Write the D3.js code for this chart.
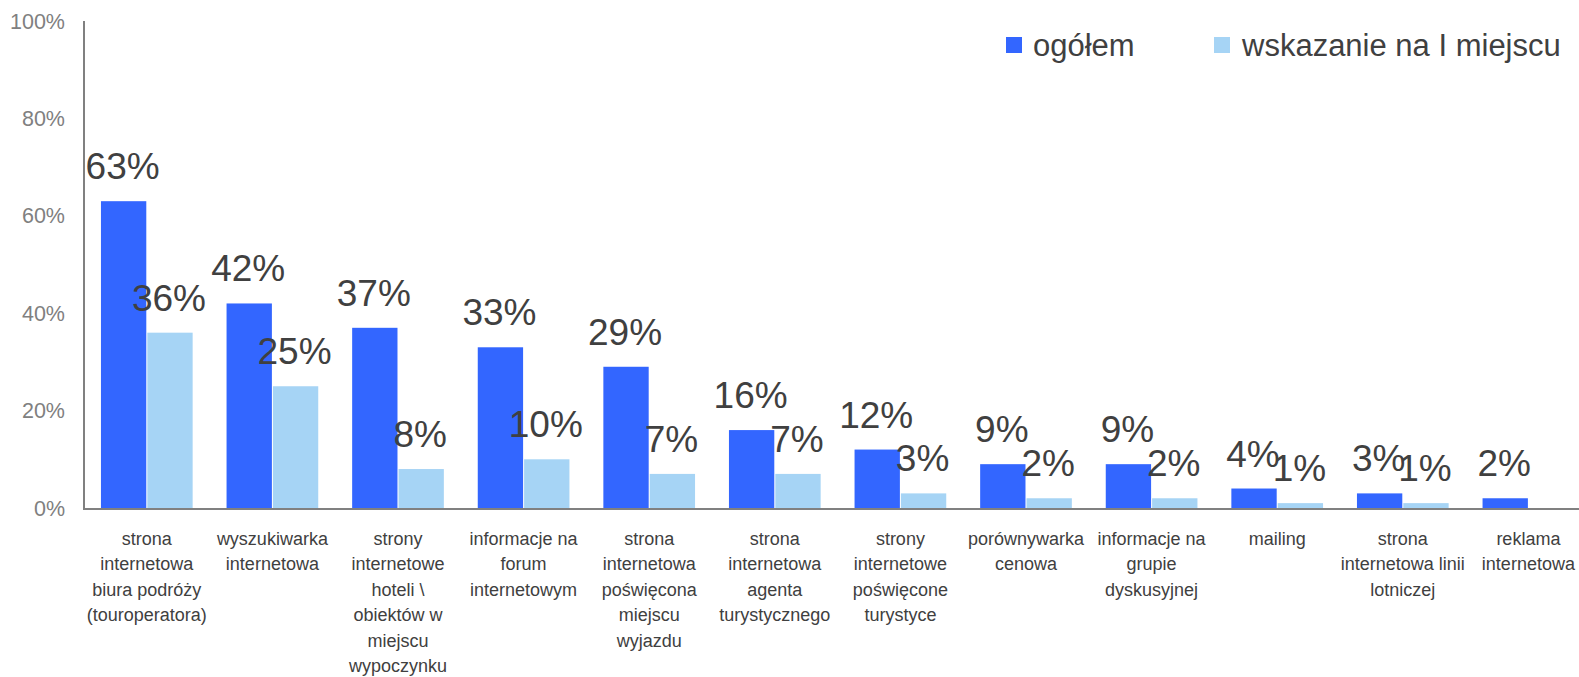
<!DOCTYPE html>
<html>
<head>
<meta charset="utf-8">
<script src="https://cdn.jsdelivr.net/npm/d3@7"></script>
<style>
  html, body { margin: 0; padding: 0; background: #fff; }
  svg { display: block; font-family: "Liberation Sans", Arial, sans-serif; }
</style>
</head>
<body>
<svg id="chart" width="1579" height="677"></svg>
<script>
// Category labels, split into the lines they are printed on
const categories = [
  ["strona", "internetowa", "biura podróży", "(touroperatora)"],
  ["wyszukiwarka", "internetowa"],
  ["strony", "internetowe", "hoteli \\", "obiektów w", "miejscu", "wypoczynku"],
  ["informacje na", "forum", "internetowym"],
  ["strona", "internetowa", "poświęcona", "miejscu", "wyjazdu"],
  ["strona", "internetowa", "agenta", "turystycznego"],
  ["strony", "internetowe", "poświęcone", "turystyce"],
  ["porównywarka", "cenowa"],
  ["informacje na", "grupie", "dyskusyjnej"],
  ["mailing"],
  ["strona", "internetowa linii", "lotniczej"],
  ["reklama", "internetowa"]
];
const seriesNames = ["ogółem", "wskazanie na I miejscu"];
const ogolem = [63, 42, 37, 33, 29, 16, 12, 9, 9, 4, 3, 2];
const pierwszeMiejsce = [36, 25, 8, 10, 7, 7, 3, 2, 2, 1, 1, null];
const yTicks = [0, 20, 40, 60, 80, 100];
const colors = ["#3366FF", "#A6D4F5"];

const svg = d3.select("#chart");
const left = 84, zeroY = 508, topY = 21;
const step = 125.6;

const x0 = d3.scaleBand()
  .domain(d3.range(categories.length))
  .range([left, left + step * categories.length])
  .padding(0);

const x1 = d3.scaleBand()
  .domain(d3.range(seriesNames.length))
  .range([x0.bandwidth() * 0.135, x0.bandwidth() * 0.865])
  .paddingInner(0.022);

const y = d3.scaleLinear().domain([0, 100]).range([zeroY, topY]);

// y tick labels
svg.append("g").selectAll("text")
  .data(yTicks).join("text")
  .attr("x", 65)
  .attr("y", d => y(d))
  .attr("dy", "0.35em")
  .attr("text-anchor", "end")
  .attr("font-size", 21.5)
  .attr("fill", "#808080")
  .text(d => d + "%");

// bars
const rows = categories.map((c, i) => ({ i, vals: [ogolem[i], pierwszeMiejsce[i]] }));
const groups = svg.append("g").selectAll("g")
  .data(rows).join("g")
  .attr("transform", d => `translate(${x0(d.i)},0)`);

groups.selectAll("rect")
  .data(d => d.vals.map((v, s) => ({ v, s })).filter(e => e.v != null))
  .join("rect")
  .attr("x", e => x1(e.s))
  .attr("width", x1.bandwidth())
  .attr("y", e => y(e.v))
  .attr("height", e => zeroY - y(e.v))
  .attr("fill", e => colors[e.s]);

// axes lines
svg.append("line")
  .attr("x1", left).attr("x2", left)
  .attr("y1", topY).attr("y2", zeroY + 1)
  .attr("stroke", "#808080").attr("stroke-width", 2);
svg.append("line")
  .attr("x1", left - 1).attr("x2", 1579)
  .attr("y1", zeroY + 1).attr("y2", zeroY + 1)
  .attr("stroke", "#808080").attr("stroke-width", 2);

// value labels
groups.selectAll("text.val")
  .data(d => d.vals.map((v, s) => ({ v, s })).filter(e => e.v != null))
  .join("text")
  .attr("class", "val")
  .attr("x", e => x1(e.s) + x1.bandwidth() / 2 - 1)
  .attr("y", e => y(e.v) - 22)
  .attr("text-anchor", "middle")
  .attr("font-size", 37)
  .attr("fill", "#404040")
  .text(e => e.v + "%");

// category labels
const catLabels = svg.append("g").selectAll("text")
  .data(categories).join("text")
  .attr("x", (d, i) => x0(i) + x0.bandwidth() / 2)
  .attr("y", 545)
  .attr("text-anchor", "middle")
  .attr("font-size", 18)
  .attr("fill", "#404040");
catLabels.selectAll("tspan")
  .data(d => d).join("tspan")
  .attr("x", function () { return this.parentNode.getAttribute("x"); })
  .attr("dy", (d, j) => j === 0 ? 0 : 25.4)
  .text(d => d);

// legend
const legendPos = [[1006, 1033], [1214, 1242]];
const legend = svg.append("g").selectAll("g")
  .data(seriesNames).join("g");
legend.append("rect")
  .attr("x", (d, i) => legendPos[i][0])
  .attr("y", 37)
  .attr("width", 16).attr("height", 16)
  .attr("fill", (d, i) => colors[i]);
legend.append("text")
  .attr("x", (d, i) => legendPos[i][1])
  .attr("y", 56)
  .attr("font-size", 31)
  .attr("fill", "#404040")
  .text(d => d);
</script>
</body>
</html>
